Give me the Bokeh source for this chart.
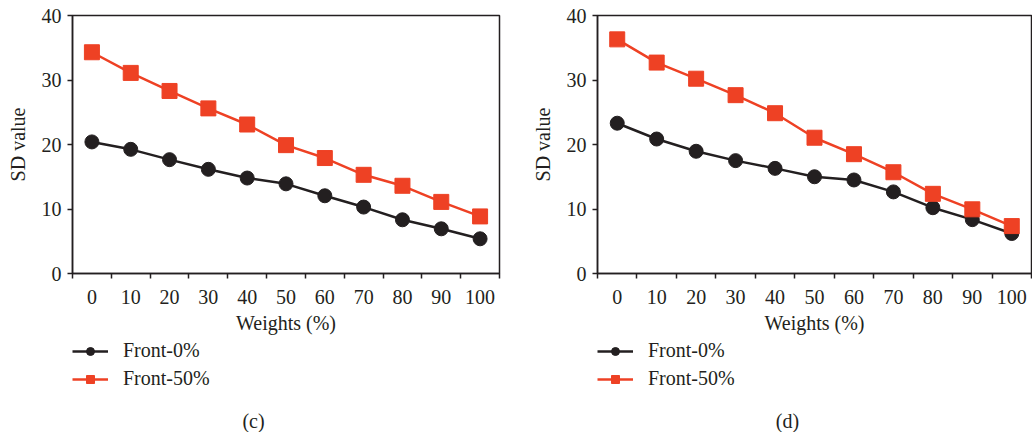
from bokeh.plotting import figure
from bokeh.layouts import row, column
from bokeh.models import Range1d, FixedTicker, Legend, LegendItem, Label
from bokeh.embed import file_html
from bokeh.resources import INLINE

weights = [0, 10, 20, 30, 40, 50, 60, 70, 80, 90, 100]
c_front0 = [20.4, 19.25, 17.65, 16.15, 14.8, 13.9, 12.05, 10.3, 8.33, 6.93, 5.38]
c_front50 = [34.3, 31.1, 28.3, 25.6, 23.1, 19.9, 17.9, 15.3, 13.6, 11.1, 8.85]
d_front0 = [23.3, 20.85, 18.95, 17.5, 16.3, 15.0, 14.5, 12.65, 10.2, 8.35, 6.2]
d_front50 = [36.3, 32.7, 30.2, 27.65, 24.85, 21.05, 18.5, 15.7, 12.35, 9.95, 7.35]
y_ticks = [0, 10, 20, 30, 40]
series_names = ["Front-0%", "Front-50%"]
captions = ["(c)", "(d)"]

FONT = "Liberation Serif"
TXT = "#231f20"
RED = "#ee4124"
BLK = "#231f20"
FS = "20px"


def draw_series(p, f0, f50):
    l0 = p.line(weights, f0, line_color=BLK, line_width=2.5)
    s0 = p.scatter(weights, f0, marker="circle", size=14, fill_color=BLK, line_color=BLK)
    l1 = p.line(weights, f50, line_color=RED, line_width=2.5)
    s1 = p.scatter(weights, f50, marker="square", size=15, fill_color=RED, line_color=RED)
    return l0, s0, l1, s1


def make_panel(f0, f50, border_left, border_right):
    p = figure(width=516, height=340, output_backend="svg", toolbar_location=None,
               x_range=Range1d(-5, 105), y_range=Range1d(0, 40),
               min_border_left=border_left, min_border_right=border_right,
               min_border_top=15, min_border_bottom=67)
    p.xgrid.visible = False
    p.ygrid.visible = False
    p.outline_line_color = BLK
    p.outline_line_width = 1.5
    p.background_fill_color = "white"
    p.border_fill_color = "white"

    xa = p.xaxis[0]
    xa.ticker = FixedTicker(ticks=weights, minor_ticks=[w - 5 for w in weights] + [105])
    xa.major_tick_out = 0
    xa.major_tick_in = 0
    xa.minor_tick_out = 5
    xa.minor_tick_in = 0
    xa.minor_tick_line_color = BLK
    xa.minor_tick_line_width = 1.5
    xa.major_label_standoff = 11
    xa.axis_label = "Weights (%)"
    xa.axis_label_standoff = 5

    ya = p.yaxis[0]
    ya.ticker = FixedTicker(ticks=y_ticks)
    ya.minor_tick_line_color = None
    ya.major_tick_out = 5
    ya.major_tick_in = 0
    ya.major_label_standoff = 6
    ya.axis_label = "SD value"
    ya.axis_label_standoff = 10

    for ax in (xa, ya):
        ax.axis_line_color = BLK
        ax.axis_line_width = 1.5
        ax.major_tick_line_color = BLK
        ax.major_tick_line_width = 1.5
        ax.major_label_text_font = FONT
        ax.major_label_text_font_size = FS
        ax.major_label_text_color = TXT
        ax.axis_label_text_font = FONT
        ax.axis_label_text_font_size = FS
        ax.axis_label_text_font_style = "normal"
        ax.axis_label_text_color = TXT

    draw_series(p, f0, f50)
    return p


def make_legend(f0, f50, caption, cap_x):
    # Legend strip: the series are drawn again but lie outside its visible range,
    # so only the legend (built from them) shows.
    q = figure(width=516, height=92, output_backend="svg", toolbar_location=None,
               x_axis_type=None, y_axis_type=None,
               x_range=Range1d(-5, 105), y_range=Range1d(100, 200),
               min_border_left=0, min_border_right=0, min_border_top=0, min_border_bottom=0)
    q.xgrid.visible = False
    q.ygrid.visible = False
    q.outline_line_color = None
    q.background_fill_color = "white"
    q.border_fill_color = "white"
    l0, s0, l1, s1 = draw_series(q, f0, f50)
    legend = Legend(items=[LegendItem(label=series_names[0], renderers=[l0, s0]),
                           LegendItem(label=series_names[1], renderers=[l1, s1])],
                    location=(0, 42), orientation="vertical",
                    margin=0, padding=0, spacing=5,
                    glyph_width=36, glyph_height=20, label_height=20,
                    label_standoff=15,
                    label_text_font=FONT, label_text_font_size=FS, label_text_color=TXT,
                    border_line_color=None, background_fill_alpha=0)
    q.add_layout(legend, "center")
    cap = Label(x=cap_x, y=12, x_units="screen", y_units="screen", text=caption,
                text_font=FONT, text_font_size=FS, text_color=TXT,
                text_align="center", text_baseline="middle")
    q.add_layout(cap)
    return q


p1 = make_panel(c_front0, c_front50, 72, 17)
q1 = make_legend(c_front0, c_front50, captions[0], 181)
p2 = make_panel(d_front0, d_front50, 81, 1)
q2 = make_legend(d_front0, d_front50, captions[1], 190)
layout = row(column(p1, q1, spacing=0), column(p2, q2, spacing=0), spacing=0)

open("out.html", "w").write(file_html(layout, INLINE))
